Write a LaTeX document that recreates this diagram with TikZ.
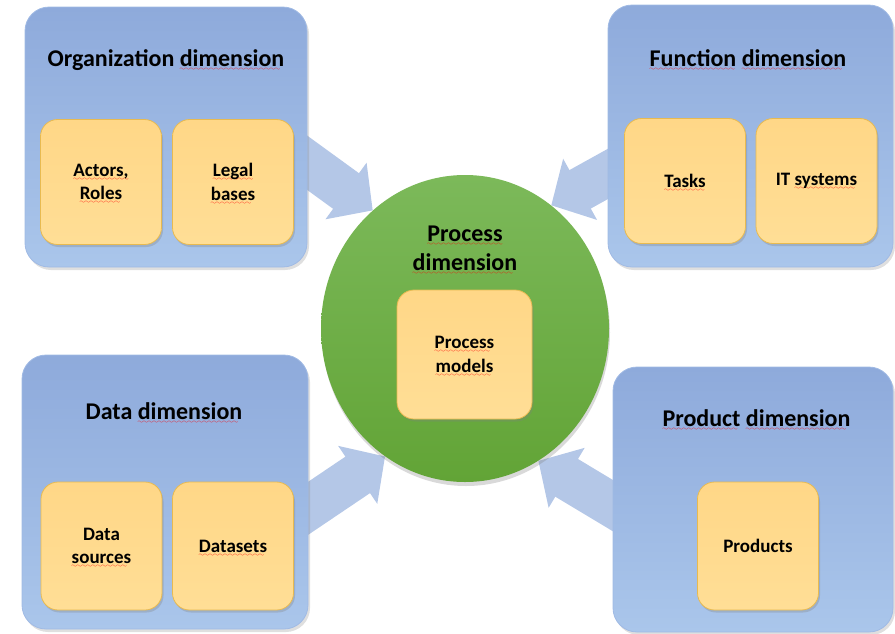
\documentclass[tikz,border=0pt]{standalone}
\usepackage{fontspec}
\setmainfont{Carlito}
\usetikzlibrary{arrows.meta,shapes.geometric,shadows,calc}

\definecolor{panelTop}{RGB}{142,170,219}
\definecolor{panelBot}{RGB}{170,198,235}
\definecolor{panelRim}{RGB}{160,186,228}
\definecolor{itemTop}{RGB}{255,215,135}
\definecolor{itemBot}{RGB}{255,222,150}
\definecolor{itemRim}{RGB}{232,186,80}
\definecolor{hubTop}{RGB}{124,185,90}
\definecolor{hubBot}{RGB}{98,164,54}
\definecolor{feedBlue}{RGB}{180,199,231}

% red wavy underline (spelling marks)
\font\wavefnt=lasy6
\newsavebox\splbox
\newcommand\spl[1]{\sbox\splbox{#1}\rlap{\raisebox{-4pt}[0pt][0pt]{\hbox to\wd\splbox{\color{red}\leaders\hbox{\wavefnt\char58}\hfill}}}\usebox\splbox}

\pgfdeclarelayer{back}
\pgfsetlayers{back,main}

\tikzset{
	panel/.style={draw=panelRim, line width=0.8pt, rounded corners=24pt, top color=panelTop, bottom color=panelBot,
		drop shadow={shadow xshift=2pt, shadow yshift=-3pt, opacity=0.25}},
	item/.style={draw=itemRim, line width=0.8pt, rounded corners=17pt, top color=itemTop, bottom color=itemBot,
		minimum width=121pt, minimum height=125pt, inner sep=0pt, align=center,
		font=\fontsize{19}{23.5}\selectfont\bfseries,
		drop shadow={shadow xshift=1.5pt, shadow yshift=-2.5pt, opacity=0.3}},
	title/.style={align=center, font=\fontsize{24}{29}\selectfont\bfseries},
	hub/.style={ellipse, inner sep=0pt, top color=hubTop, bottom color=hubBot,
		drop shadow={shadow xshift=1pt, shadow yshift=-4pt, opacity=0.3}},
	feed/.style={draw=feedBlue, line width=44pt, -{Triangle[length=33pt,width=68pt]}}
}

\begin{document}
\begin{tikzpicture}[x=1pt,y=-1pt]
\useasboundingbox (0,0) rectangle (895,633);

% panels
\node[panel, minimum width=282pt, minimum height=260pt] (org) at (166,137) {};
\node[panel, minimum width=285pt, minimum height=262pt] (fun) at (750.5,136) {};
\node[panel, minimum width=286pt, minimum height=274pt] (dat) at (165,492) {};
\node[panel, minimum width=280pt, minimum height=265pt] (prd) at (753,499.5) {};

\node[title] (orgT) at (166,60) {Organization \spl{dimension}};
\node[title] (funT) at (748,58) {\spl{Function} \spl{dimension}};
\node[title] (datT) at (164,411) {Data \spl{dimension}};
\node[title] (prdT) at (756.5,418) {\spl{Product} \spl{dimension}};

% inner boxes
\node[item] (actors) at (101,182) {\spl{Actors,}\\\spl{Roles}};
\node[item] (legal) at (233,182) {\spl{Legal}\\\spl{bases}};
\node[item] (tasks) at (685,181) {\spl{Tasks}};
\node[item] (itsys) at (816.5,181) {IT \spl{systems}};
\node[item, minimum height=128pt] (sources) at (101.5,546) {Data\\\spl{sources}};
\node[item, minimum height=128pt] (datasets) at (233,546) {\spl{Datasets}};
\node[item, minimum height=128pt] (products) at (758,546) {Products};

% centre
\node[hub, minimum width=288pt, minimum height=307pt] (proc) at (465,328.5) {};
\node[title] (procT) at (465,248) {\spl{Process}\\\spl{dimension}};
\node[item, minimum width=135pt, minimum height=129pt] (models) at (464.5,354.5) {\spl{Process}\\\spl{models}};

% arrows into the centre
\begin{pgfonlayer}{back}
\foreach \tip/\ang [count=\i] in {128/144, 55/29, -122/214, -61/-31} {
	\coordinate (in\i) at (proc.\tip);
	\coordinate (out\i) at ($(in\i)+(\ang:110pt)$);
	\draw[feed] (out\i) -- (in\i);
}
\end{pgfonlayer}

\end{tikzpicture}
\end{document}
